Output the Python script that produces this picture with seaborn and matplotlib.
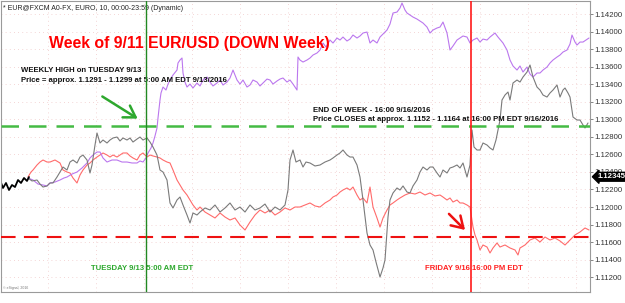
import numpy as np
import pandas as pd
import seaborn as sns
import matplotlib
matplotlib.use("Agg")
import matplotlib.pyplot as plt
import matplotlib.transforms as mtransforms


#%% data  (x = 15-minute bar index, y = EUR/USD price)

Black_Bars   = [0, 3, 6, 9, 12, 15, 18, 21, 24, 27, 29]
Black_Price  = [1.12308, 1.12217, 1.12274, 1.12194, 1.12251, 1.12228, 1.12308, 1.12274, 1.12331, 1.12297, 1.12342]

Purple_Bars  = [28, 33, 38, 43, 47, 50, 55, 60, 64, 67, 72, 77, 82, 87, 90, 93, 97, 100, 103, 107,
                112, 117, 122, 127, 132, 137, 140, 143, 146, 148, 151, 153, 155, 157, 158, 160, 161, 163, 166, 168,
                170, 173, 177, 178, 180, 182, 183, 185, 187, 190, 193, 197, 200, 203, 207, 210, 213, 217, 220, 223,
                227, 230, 233, 235, 237, 240, 243, 247, 250, 253, 257, 260, 263, 267, 270, 273, 277, 280, 283, 287,
                290, 293, 297, 298, 300, 303, 307, 310, 313, 317, 320, 323, 326, 330, 333, 337, 340, 343, 347, 350,
                353, 357, 360, 363, 367, 370, 373, 377, 380, 383, 387, 390, 393, 397, 400, 402, 405, 407, 410, 413,
                417, 420, 423, 427, 430, 433, 437, 440, 443, 447, 450, 453, 457, 460, 463, 467, 470, 473, 477, 480,
                483, 487, 490, 495, 498, 503, 507, 510, 513, 517, 520, 523, 527, 530, 533, 537, 540, 543, 547, 550,
                553, 557, 560, 563, 567, 570, 572, 575, 577, 580, 583, 586, 589]
Purple_Price = [1.12331, 1.12308, 1.12262, 1.12251, 1.12240, 1.12274, 1.12285, 1.12308, 1.12331, 1.12342,
                1.12376, 1.12399, 1.12445, 1.12502, 1.12559, 1.12593, 1.12627, 1.12627, 1.12559, 1.12513,
                1.12536, 1.12536, 1.12513, 1.12513, 1.12502, 1.12502, 1.12525, 1.12513, 1.12559, 1.12616,
                1.12673, 1.12730, 1.12810, 1.12901, 1.13015, 1.13220, 1.13300, 1.13368, 1.13334, 1.13402,
                1.13448, 1.13505, 1.13562, 1.13642, 1.13676, 1.13699, 1.13528, 1.13425, 1.13368, 1.13402,
                1.13357, 1.13414, 1.13380, 1.13448, 1.13482, 1.13425, 1.13380, 1.13414, 1.13448, 1.13391,
                1.13425, 1.13471, 1.13562, 1.13505, 1.13448, 1.13402, 1.13448, 1.13368, 1.13391, 1.13448,
                1.13425, 1.13380, 1.13414, 1.13459, 1.13448, 1.13402, 1.13437, 1.13459, 1.13471, 1.13425,
                1.13448, 1.13402, 1.13334, 1.13710, 1.13676, 1.13653, 1.13676, 1.13699, 1.13733, 1.13756,
                1.13790, 1.13870, 1.13824, 1.13904, 1.13870, 1.13927, 1.13904, 1.13938, 1.13893, 1.13915,
                1.13961, 1.13927, 1.13950, 1.13984, 1.13995, 1.13870, 1.13904, 1.13870, 1.13938, 1.13972,
                1.14018, 1.14086, 1.14212, 1.14223, 1.14269, 1.14326, 1.14246, 1.14212, 1.14189, 1.14166,
                1.14143, 1.14121, 1.14098, 1.14052, 1.13984, 1.14018, 1.14041, 1.14052, 1.14109, 1.13984,
                1.13790, 1.13836, 1.13904, 1.13927, 1.13950, 1.13938, 1.13870, 1.13904, 1.13927, 1.13881,
                1.13915, 1.13904, 1.13938, 1.13984, 1.13938, 1.13870, 1.13790, 1.13676, 1.13608, 1.13562,
                1.13608, 1.13539, 1.13596, 1.13516, 1.13482, 1.13528, 1.13528, 1.13562, 1.13596, 1.13642,
                1.13676, 1.13710, 1.13733, 1.13767, 1.13790, 1.13858, 1.13961, 1.13881, 1.13847, 1.13881,
                1.13881, 1.13904, 1.13927]

Gray_Bars    = [28, 32, 37, 40, 43, 47, 50, 53, 57, 60, 63, 67, 70, 73, 77, 80, 83, 87, 90, 92,
                95, 97, 100, 103, 107, 110, 113, 117, 120, 123, 127, 130, 133, 137, 140, 143, 147, 150, 153, 157,
                160, 163, 167, 170, 173, 177, 180, 183, 187, 190, 193, 197, 200, 205, 210, 215, 220, 225, 230, 235,
                240, 245, 250, 255, 260, 265, 270, 275, 280, 285, 288, 290, 293, 296, 300, 303, 306, 310, 315, 320,
                325, 330, 333, 337, 340, 343, 347, 350, 353, 357, 360, 363, 367, 370, 373, 376, 380, 383, 385, 388,
                390, 393, 397, 400, 403, 407, 410, 413, 417, 420, 423, 427, 430, 433, 437, 440, 443, 447, 450, 453,
                457, 460, 463, 467, 470, 472, 474, 477, 480, 483, 487, 490, 493, 496, 500, 502, 505, 508, 510, 513,
                517, 520, 523, 527, 530, 533, 537, 540, 543, 547, 550, 553, 557, 560, 563, 565, 568, 570, 573, 577,
                580, 583, 585, 588]
Gray_Price   = [1.12331, 1.12297, 1.12308, 1.12262, 1.12228, 1.12240, 1.12274, 1.12274, 1.12342, 1.12399,
                1.12456, 1.12422, 1.12513, 1.12536, 1.12502, 1.12570, 1.12593, 1.12536, 1.12388, 1.12479,
                1.12707, 1.12844, 1.12730, 1.12764, 1.12730, 1.12764, 1.12787, 1.12798, 1.12753, 1.12787,
                1.12764, 1.12787, 1.12741, 1.12775, 1.12798, 1.12764, 1.12787, 1.12741, 1.12684, 1.12593,
                1.12422, 1.12399, 1.12308, 1.12046, 1.11989, 1.12080, 1.12114, 1.12023, 1.11909, 1.11818,
                1.11932, 1.11909, 1.11943, 1.11989, 1.11966, 1.12023, 1.11943, 1.11989, 1.12046, 1.11966,
                1.12000, 1.11943, 1.12023, 1.11966, 1.11989, 1.12034, 1.11943, 1.12000, 1.11966, 1.12023,
                1.12194, 1.12536, 1.12650, 1.12513, 1.12536, 1.12456, 1.12513, 1.12502, 1.12468, 1.12479,
                1.12513, 1.12536, 1.12559, 1.12593, 1.12616, 1.12650, 1.12593, 1.12570, 1.12570, 1.12479,
                1.12342, 1.12080, 1.11704, 1.11567, 1.11510, 1.11373, 1.11202, 1.11305, 1.11396, 1.11886,
                1.12080, 1.12160, 1.12217, 1.12194, 1.12240, 1.12171, 1.12160, 1.12240, 1.12308, 1.12399,
                1.12456, 1.12422, 1.12456, 1.12456, 1.12388, 1.12342, 1.12422, 1.12388, 1.12445, 1.12456,
                1.12479, 1.12445, 1.12502, 1.12342, 1.12479, 1.12878, 1.12684, 1.12650, 1.12650, 1.12730,
                1.12707, 1.12673, 1.12650, 1.12764, 1.12992, 1.13220, 1.13277, 1.13311, 1.13220, 1.13414,
                1.13448, 1.13425, 1.13482, 1.13539, 1.13619, 1.13482, 1.13368, 1.13334, 1.13277, 1.13254,
                1.13300, 1.13334, 1.13391, 1.13254, 1.13334, 1.13357, 1.13300, 1.13254, 1.13026, 1.12992,
                1.12992, 1.12935, 1.12901, 1.12958]

Red_Bars     = [28, 31, 33, 37, 40, 43, 47, 50, 55, 60, 63, 67, 70, 73, 77, 80, 83, 87, 90, 93,
                97, 100, 103, 107, 110, 113, 117, 120, 123, 127, 130, 133, 137, 140, 143, 147, 150, 153, 157, 160,
                163, 167, 170, 173, 177, 180, 183, 187, 190, 193, 197, 200, 205, 210, 215, 220, 225, 230, 235, 240,
                245, 250, 255, 260, 265, 270, 275, 280, 285, 290, 295, 300, 305, 310, 315, 320, 325, 330, 333, 337,
                340, 343, 347, 350, 353, 357, 360, 363, 367, 370, 373, 377, 380, 383, 387, 390, 393, 397, 400, 405,
                410, 415, 420, 425, 430, 435, 440, 443, 447, 450, 453, 457, 460, 463, 467, 470, 473, 475, 477, 480,
                483, 487, 490, 493, 497, 500, 505, 510, 515, 518, 520, 525, 530, 535, 540, 545, 550, 555, 560, 565,
                570, 575, 580, 585, 589]
Red_Price    = [1.12342, 1.12399, 1.12422, 1.12479, 1.12513, 1.12536, 1.12513, 1.12513, 1.12536, 1.12502,
                1.12422, 1.12399, 1.12388, 1.12331, 1.12274, 1.12365, 1.12422, 1.12479, 1.12502, 1.12536,
                1.12570, 1.12593, 1.12616, 1.12593, 1.12570, 1.12593, 1.12570, 1.12593, 1.12616, 1.12616,
                1.12582, 1.12559, 1.12536, 1.12593, 1.12616, 1.12570, 1.12593, 1.12582, 1.12570, 1.12559,
                1.12536, 1.12513, 1.12502, 1.12422, 1.12308, 1.12251, 1.12194, 1.12137, 1.12080, 1.12023,
                1.11966, 1.12000, 1.11943, 1.11909, 1.11875, 1.11932, 1.11886, 1.11852, 1.11875, 1.11795,
                1.11738, 1.11829, 1.11909, 1.11966, 1.11932, 1.11966, 1.11909, 1.11943, 1.11989, 1.11966,
                1.12000, 1.12000, 1.12023, 1.12046, 1.12012, 1.12000, 1.12046, 1.12080, 1.12114, 1.12137,
                1.12171, 1.12194, 1.12217, 1.12194, 1.12228, 1.12137, 1.12080, 1.12103, 1.12046, 1.12228,
                1.12000, 1.11875, 1.11772, 1.11875, 1.11966, 1.12023, 1.12046, 1.12080, 1.12103, 1.12137,
                1.12160, 1.12148, 1.12171, 1.12137, 1.12160, 1.12126, 1.12137, 1.12114, 1.12080, 1.12103,
                1.12057, 1.12080, 1.12046, 1.12046, 1.12023, 1.12000, 1.11772, 1.11681, 1.11624, 1.11510,
                1.11567, 1.11544, 1.11476, 1.11533, 1.11590, 1.11544, 1.11567, 1.11533, 1.11510, 1.11453,
                1.11533, 1.11567, 1.11624, 1.11647, 1.11601, 1.11658, 1.11624, 1.11647, 1.11613, 1.11567,
                1.11624, 1.11681, 1.11715, 1.11761, 1.11738]

Weekly_High   = 1.1292
Weekly_Close  = 1.1166
Last_Price    = 1.12345
High_Bar      = 146      # Tuesday 9/13 5:00 AM EDT
Close_Bar     = 471      # Friday 9/16 16:00 PM EDT

YTicks = [1.112, 1.114, 1.116, 1.118, 1.120, 1.122, 1.124, 1.126, 1.128, 1.130,
          1.132, 1.134, 1.136, 1.138, 1.140, 1.142]


#%% frames

df = pd.concat([pd.DataFrame({"Bar": Red_Bars,    "Price": Red_Price,    "Series": "red"}),
                pd.DataFrame({"Bar": Purple_Bars, "Price": Purple_Price, "Series": "purple"}),
                pd.DataFrame({"Bar": Gray_Bars,   "Price": Gray_Price,   "Series": "gray"})],
               ignore_index = True)

df_black = pd.DataFrame({"Bar": Black_Bars, "Price": Black_Price})


#%% style

sns.set_style("white")
plt.rcParams["font.family"] = ["Liberation Sans", "DejaVu Sans"]

Palette = {"red": "#ff6b6b", "purple": "#bb77ee", "gray": "#7a7a7a"}

Fig_Width  = 6.25
Fig_Height = 3.03

Color_Green = "#2ea82e"
Color_Red   = "#ee1111"
Color_Frame = "#9a9a9a"

FontSize_Title = 11.4
FontSize_Note  = 5.6
FontSize_Tick  = 5.6

fig = plt.figure(figsize = [Fig_Width, Fig_Height], dpi = 100)
ax = fig.add_axes([0.0016, 0.0363, 0.9424, 0.9604])

ax = sns.lineplot(ax = ax, data = df, x = "Bar", y = "Price", hue = "Series",
                  palette = Palette, estimator = None, sort = False,
                  linewidth = 0.8, legend = False)
sns.lineplot(ax = ax, data = df_black, x = "Bar", y = "Price", color = "black",
             estimator = None, sort = False, linewidth = 1.3, legend = False)

# reference lines
ax.axhline(Weekly_High, color = "#44bb44", lw = 1.8, dashes = (7, 4), zorder = 3)
ax.axhline(Weekly_Close, color = Color_Red, lw = 1.5, dashes = (7, 4), zorder = 3)
ax.axvline(High_Bar, color = "#228822", lw = 1.0, zorder = 4)
ax.axvline(Close_Bar, color = "#ff1a1a", lw = 1.2, zorder = 4)

# axes
ax.set_xlim(1, 590)
ax.set_ylim(1.11031, 1.14349)
ax.set_xlabel("")
ax.set_ylabel("")
ax.set_xticks([])
ax.yaxis.tick_right()
ax.set_yticks(YTicks)
ax.set_yticklabels(["%.5f" % v for v in YTicks], fontsize = FontSize_Tick, color = "#333333")
ax.tick_params(axis = "y", length = 2, width = 0.5, pad = 1, colors = "#555555", labelcolor = "#333333")

for v in YTicks:
    ax.axhline(v, color = "#f0c8c8", lw = 0.6, ls = (0, (1, 4)), zorder = 0)
for b in range(48, 590, 48):
    ax.axvline(b, color = "#f0c8c8", lw = 0.6, ls = (0, (1, 4)), zorder = 0)

for s in ax.spines.values():
    s.set_color(Color_Frame)
    s.set_linewidth(0.8)

# texts
ax.text(0.003, 0.985, "* EUR@FXCM A0-FX, EURO, 10, 00:00-23:59 (Dynamic)", transform = ax.transAxes,
        fontsize = 5.0, color = "#222222", va = "top", ha = "left")

ax.text(189, 1.13870, "Week of 9/11 EUR/USD (DOWN Week)", color = "#ff0000", fontsize = FontSize_Title,
        fontweight = "bold", ha = "center", va = "center")

ax.text(21, 1.13500, "WEEKLY HIGH on TUESDAY 9/13\nPrice = approx. 1.1291 - 1.1299 at 5:00 AM EDT 9/13/2016",
        fontsize = FontSize_Note, fontweight = "bold", color = "#111111", ha = "left", va = "center",
        linespacing = 1.45)
ax.text(313, 1.13050, "END OF WEEK - 16:00 9/16/2016\nPrice CLOSES at approx. 1.1152 - 1.1164 at 16:00 PM EDT 9/16/2016",
        fontsize = FontSize_Note, fontweight = "bold", color = "#111111", ha = "left", va = "center",
        linespacing = 1.45)

ax.annotate("", xy = (140, 1.12991), xytext = (100, 1.13277),
            arrowprops = dict(arrowstyle = "->,head_length=0.8,head_width=0.5", color = Color_Green, lw = 1.8))
ax.annotate("", xy = (467, 1.11716), xytext = (447, 1.11944),
            arrowprops = dict(arrowstyle = "->,head_length=0.8,head_width=0.5", color = Color_Red, lw = 1.8))

ax.text(142, 1.11300, "TUESDAY 9/13 5:00 AM EDT", color = Color_Green, fontsize = FontSize_Note,
        fontweight = "bold", ha = "center", va = "center")
ax.text(474, 1.11300, "FRIDAY 9/16 16:00 PM EDT", color = "#ff2222", fontsize = FontSize_Note,
        fontweight = "bold", ha = "center", va = "center")

ax.text(0.003, 0.012, "© eSignal, 2016", transform = ax.transAxes, fontsize = 2.5, color = "#777777")

# last price tag
trans = mtransforms.blended_transform_factory(ax.transAxes, ax.transData)
ax.text(1.012, Last_Price, "1.12345", transform = trans, fontsize = FontSize_Tick, color = "white",
        fontweight = "bold", va = "center", ha = "left", zorder = 10, clip_on = False,
        bbox = dict(boxstyle = "larrow,pad=0.12", fc = "black", ec = "black"))

fig.savefig("out.png", dpi = 100)
